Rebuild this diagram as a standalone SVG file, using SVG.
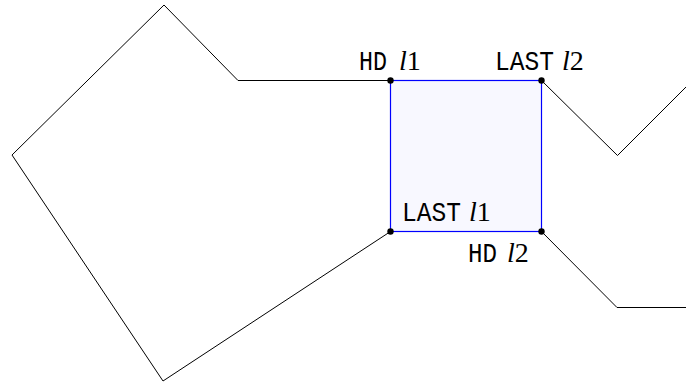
<svg xmlns="http://www.w3.org/2000/svg" width="686" height="383" viewBox="0 0 686 383">
  <style>
    .edge { fill: none; stroke: #000; stroke-width: 1; stroke-linejoin: miter; }
    .cell { fill: #f8f8ff; stroke: #0000ff; stroke-width: 1.2; }
    .pt { fill: #000; }
    .tt { font-family: "Liberation Mono", "DejaVu Sans Mono", monospace; font-size: 27px; fill: #000; }
    .var { font-family: "Liberation Serif", "DejaVu Serif", serif; font-style: italic; font-size: 28px; }
    .num { font-family: "Liberation Serif", "DejaVu Serif", serif; font-style: normal; font-size: 28px; }
  </style>

  <!-- shared square between the two loops -->
  <g id="cell">
    <rect class="cell" x="390.5" y="80.5" width="151" height="151"/>
  </g>

  <!-- the two polygonal chains -->
  <g id="connectors">
    <!-- loop l1 -->
    <polyline class="edge" points="390.5,80.5 238,80.5 164,5 12,155 163,381 390.5,231.5"/>
    <!-- loop l2 -->
    <polyline class="edge" points="541.5,80.5 617.5,155.5 686,87"/>
    <polyline class="edge" points="541.5,231.5 617,307.5 686,307.5"/>
  </g>

  <!-- corner points -->
  <g id="hd-l1">
    <circle class="pt" cx="390.5" cy="80.5" r="3.2"/>
    <text class="tt" y="70"><tspan x="359" textLength="28" lengthAdjust="spacingAndGlyphs">HD</tspan><tspan class="var" x="399">l</tspan><tspan class="num">1</tspan></text>
  </g>
  <g id="last-l2">
    <circle class="pt" cx="541.5" cy="80.5" r="3.2"/>
    <text class="tt" y="70"><tspan x="495" textLength="59" lengthAdjust="spacingAndGlyphs">LAST</tspan><tspan class="var" x="562">l</tspan><tspan class="num">2</tspan></text>
  </g>
  <g id="last-l1">
    <circle class="pt" cx="390.5" cy="231.5" r="3.2"/>
    <text class="tt" y="221"><tspan x="402" textLength="59" lengthAdjust="spacingAndGlyphs">LAST</tspan><tspan class="var" x="469">l</tspan><tspan class="num">1</tspan></text>
  </g>
  <g id="hd-l2">
    <circle class="pt" cx="541.5" cy="231.5" r="3.2"/>
    <text class="tt" y="262"><tspan x="468" textLength="29" lengthAdjust="spacingAndGlyphs">HD</tspan><tspan class="var" x="507">l</tspan><tspan class="num">2</tspan></text>
  </g>
</svg>
